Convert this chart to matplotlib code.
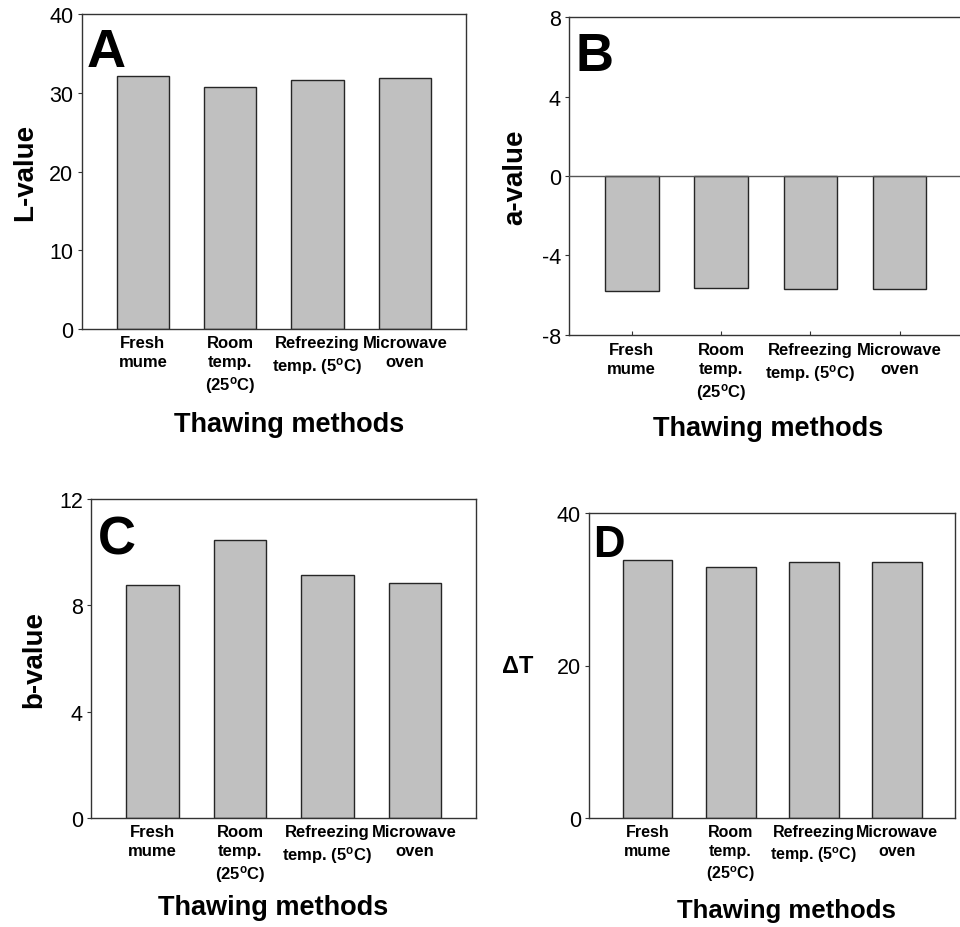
import matplotlib
matplotlib.use("Agg")
import matplotlib.pyplot as plt
import numpy as np

plt.rcParams["font.family"] = ["Liberation Sans", "DejaVu Sans"]
plt.rcParams["mathtext.fontset"] = "custom"
plt.rcParams["mathtext.rm"] = "Liberation Sans"
plt.rcParams["mathtext.bf"] = "Liberation Sans:bold"
plt.rcParams["mathtext.it"] = "Liberation Sans:italic"

# Thawing methods and measured colour / temperature values
methods = [
    "Fresh\nmume",
    "Room\ntemp.\n(25$^{\\mathbf{o}}$C)",
    "Refreezing\ntemp. (5$^{\\mathbf{o}}$C)",
    "Microwave\noven",
]
L_values = [32.1, 30.7, 31.7, 31.9]
a_values = [-5.78, -5.66, -5.69, -5.68]
b_values = [8.77, 10.45, 9.16, 8.86]
dT_values = [33.8, 32.9, 33.5, 33.6]

W, H = 960, 928
fig = plt.figure(figsize=(W / 100, H / 100), dpi=100)


def box(l, t, r, b):
    """Axes rectangle from pixel edges."""
    return [l / W, 1 - b / H, (r - l) / W, (b - t) / H]


def px(x, y):
    return x / W, 1 - y / H


BAR = "#c0c0c0"
EDGE = "#262626"
SPINE = "#333333"

panels = [
    dict(rect=box(81.7, 15.3, 466.0, 330.0), vals=L_values, ylim=(0, 40),
         yticks=[0, 10, 20, 30, 40], letter="A", lsize=39, loff=(5, 52),
         ylabel="L-value", ylx=32, xl=(289, 432), xsize=19.5, xticks=False,
         csize=12),
    dict(rect=box(569.3, 18.3, 962.0, 335.7), vals=a_values, ylim=(-8, 8),
         yticks=[-8, -4, 0, 4, 8], letter="B", lsize=38, loff=(6, 53),
         ylabel="a-value", ylx=522.7, xl=(768, 436), xsize=19.5, xticks=True,
         csize=12),
    dict(rect=box(91.3, 500.0, 476.0, 819.3), vals=b_values, ylim=(0, 12),
         yticks=[0, 4, 8, 12], letter="C", lsize=38, loff=(7, 55),
         ylabel="b-value", ylx=41.7, xl=(273, 915), xsize=19.5, xticks=False,
         csize=12),
    dict(rect=box(589.3, 513.7, 955.0, 819.3), vals=dT_values, ylim=(0, 40),
         yticks=[0, 20, 40], letter="D", lsize=31.5, loff=(4, 43),
         ylabel=None, ylx=None, xl=(786, 918), xsize=18.5, xticks=False,
         csize=11.5),
]

x = np.arange(1, len(methods) + 1)

for p in panels:
    ax = fig.add_axes(p["rect"])
    ax.bar(x, p["vals"], width=0.6, color=BAR, edgecolor=EDGE, linewidth=1.0,
           zorder=2)
    ax.set_xlim(0.3, 4.7)
    ax.set_ylim(*p["ylim"])
    ax.set_yticks(p["yticks"])
    ax.set_yticklabels([str(v) for v in p["yticks"]], fontsize=15.5)
    ax.tick_params(axis="y", direction="out", length=3, width=0.8,
                   color=SPINE, pad=3)
    ax.set_xticks(x)
    ax.set_xticklabels(methods, fontsize=p["csize"], fontweight="bold",
                       linespacing=1.35)
    if p["xticks"]:
        ax.tick_params(axis="x", direction="in", length=3, width=0.8,
                       color=SPINE, pad=5)
    else:
        ax.tick_params(axis="x", length=0, pad=4)
    for s in ax.spines.values():
        s.set_color(SPINE)
        s.set_linewidth(1.0)
    if p["ylim"][0] < 0:
        ax.axhline(0, color="#555555", linewidth=1.0, zorder=3)

    # panel letter
    ax.annotate(p["letter"], xy=(0, 1), xycoords="axes fraction",
                xytext=(p["loff"][0], -p["loff"][1]),
                textcoords="offset pixels", ha="left", va="baseline",
                fontsize=p["lsize"], fontweight="bold")

    # y-axis label
    if p["ylabel"]:
        l, b, w, h = p["rect"]
        cx, cy = px(p["ylx"], 0)
        fig.text(cx, b + h / 2, p["ylabel"], rotation=90,
                 rotation_mode="anchor", ha="center", va="baseline",
                 fontsize=20, fontweight="bold")
    else:
        ax.text(-0.154, 20, "\u0394T", transform=ax.get_yaxis_transform(),
                ha="right", va="center", fontsize=17, fontweight="bold")

    # x-axis title
    tx, ty = px(*p["xl"])
    fig.text(tx, ty, "Thawing methods", ha="center", va="baseline",
             fontsize=p["xsize"], fontweight="bold")

fig.savefig("out.png", dpi=100)
